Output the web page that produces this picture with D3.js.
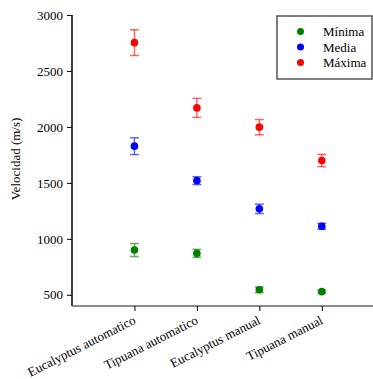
<!DOCTYPE html>
<html>
<head>
<meta charset="utf-8">
<script src="https://cdn.jsdelivr.net/npm/d3@7"></script>
<style>
  body { margin: 0; background: #fff; }
</style>
</head>
<body>
<svg id="chart" width="373" height="379"></svg>
<script>
// categories and values
const categories = ["Eucalyptus automatico", "Tipuana automatico", "Eucalyptus manual", "Tipuana manual"];
const seriesNames = ["Mínima", "Media", "Máxima"];
const seriesColors = ["#008000", "#0000ff", "#ff0000"];

const minimaMean = [900, 870, 545, 528];
const minimaErr = [58, 36, 25, 14];
const mediaMean = [1828, 1520, 1268, 1112];
const mediaErr = [75, 35, 42, 27];
const maximaMean = [2753, 2170, 1998, 1700];
const maximaErr = [115, 85, 68, 55];

const yTicks = [500, 1000, 1500, 2000, 2500, 3000];

const FONT = "'Liberation Serif', 'Times New Roman', serif";

const series = [
    { name: seriesNames[0], color: seriesColors[0], mean: minimaMean, err: minimaErr },
    { name: seriesNames[1], color: seriesColors[1], mean: mediaMean, err: mediaErr },
    { name: seriesNames[2], color: seriesColors[2], mean: maximaMean, err: maximaErr }
];

const svg = d3.select("#chart");
const margin = { left: 72, top: 15, right: 0, bottom: 73 };
const width = 373, height = 379;

const x = d3.scaleLinear()
    .domain([0, 4.82])
    .range([margin.left, width - margin.right]);
const y = d3.scaleLinear()
    .domain([400, 3000])
    .range([height - margin.bottom, margin.top]);

// y axis
const yAxis = svg.append("g")
    .attr("transform", `translate(${margin.left},0)`)
    .call(d3.axisLeft(y).tickValues(yTicks).tickSize(5).tickPadding(4).tickFormat(d3.format("d")));
yAxis.select(".domain").attr("d", `M0,${y(3000)}V${y(400)}`).attr("stroke", "#000").attr("stroke-width", 1.5);
yAxis.selectAll(".tick line").attr("stroke", "#000");
yAxis.selectAll(".tick text")
    .attr("fill", "#000")
    .style("font-family", FONT)
    .style("font-size", "13px");

// x axis
const xAxis = svg.append("g")
    .attr("transform", `translate(0,${y(400)})`)
    .call(d3.axisBottom(x).tickValues([1, 2, 3, 4]).tickSize(5).tickFormat(""));
xAxis.select(".domain").attr("d", `M${margin.left},0H${width}`).attr("stroke", "#666").attr("stroke-width", 1.5);
xAxis.selectAll(".tick line").attr("stroke", "#000");

svg.append("g").selectAll("text")
    .data(categories)
    .join("text")
    .attr("transform", (d, i) => `translate(${x(i + 1) + 2},${y(400) + 17}) rotate(-27)`)
    .attr("text-anchor", "end")
    .style("font-family", FONT)
    .style("font-size", "13px")
    .text(d => d);

// y label
svg.append("text")
    .attr("transform", `translate(20,159) rotate(-90)`)
    .attr("text-anchor", "middle")
    .style("font-family", FONT)
    .style("font-size", "13px")
    .text("Velocidad (m/s)");

// error bars and points
const cap = 4.5;
series.forEach(s => {
    const g = svg.append("g");
    const eb = g.selectAll("g.eb")
        .data(s.mean.map((m, i) => ({ i, m, e: s.err[i] })))
        .join("g")
        .attr("stroke", s.color)
        .attr("stroke-opacity", 0.6)
        .attr("stroke-width", 1.5);
    eb.append("line")
        .attr("x1", d => x(d.i + 1)).attr("x2", d => x(d.i + 1))
        .attr("y1", d => y(d.m - d.e)).attr("y2", d => y(d.m + d.e));
    eb.append("line")
        .attr("x1", d => x(d.i + 1) - cap).attr("x2", d => x(d.i + 1) + cap)
        .attr("y1", d => y(d.m + d.e)).attr("y2", d => y(d.m + d.e));
    eb.append("line")
        .attr("x1", d => x(d.i + 1) - cap).attr("x2", d => x(d.i + 1) + cap)
        .attr("y1", d => y(d.m - d.e)).attr("y2", d => y(d.m - d.e));
    g.selectAll("circle")
        .data(s.mean)
        .join("circle")
        .attr("cx", (d, i) => x(i + 1))
        .attr("cy", d => y(d))
        .attr("r", 3.8)
        .attr("fill", s.color);
});

// legend
const legend = svg.append("g");
legend.append("rect")
    .attr("x", 277).attr("y", 16)
    .attr("width", 95).attr("height", 63)
    .attr("fill", "#fff")
    .attr("stroke", "#555")
    .attr("stroke-width", 1.5);
series.forEach((s, i) => {
    legend.append("circle")
        .attr("cx", 300.5).attr("cy", 31.5 + i * 15.5)
        .attr("r", 3.5)
        .attr("fill", s.color);
    legend.append("text")
        .attr("x", 323).attr("y", 36 + i * 15.5)
        .style("font-family", FONT)
        .style("font-size", "13px")
        .text(s.name);
});
</script>
</body>
</html>
